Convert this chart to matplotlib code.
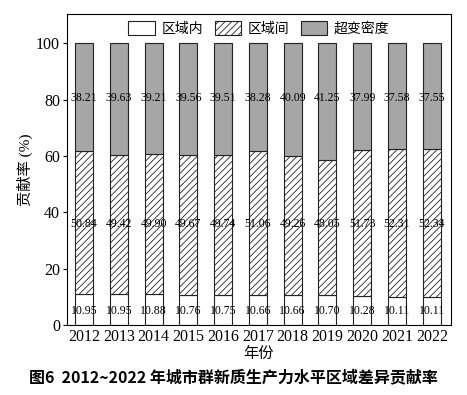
import numpy as np
import matplotlib
matplotlib.use('Agg')
import matplotlib.pyplot as plt

plt.rcParams['font.family'] = ['Liberation Serif', 'Noto Sans CJK SC']
plt.rcParams['hatch.color'] = '#555555'
plt.rcParams['hatch.linewidth'] = 0.6

years = ['2012', '2013', '2014', '2015', '2016', '2017', '2018', '2019', '2020', '2021', '2022']
intra = [10.95, 10.95, 10.88, 10.76, 10.75, 10.66, 10.66, 10.70, 10.28, 10.11, 10.11]
inter = [50.84, 49.42, 49.90, 49.67, 49.74, 51.06, 49.26, 48.05, 51.73, 52.31, 52.34]
trans = [38.21, 39.63, 39.21, 39.56, 39.51, 38.28, 40.09, 41.25, 37.99, 37.58, 37.55]

x = np.arange(len(years))
intra = np.array(intra)
inter = np.array(inter)
trans = np.array(trans)

fig = plt.figure(figsize=(4.67, 3.95), dpi=100)
ax = fig.add_axes([0.1435, 0.177, 0.822, 0.788])

w = 0.52
ax.bar(x, intra, w, color='white', edgecolor='#222222', linewidth=0.8, label='区域内')
ax.bar(x, inter, w, bottom=intra, color='white', edgecolor='#222222', hatch='/////',
       linewidth=0.8, label='区域间')
ax.bar(x, trans, w, bottom=intra + inter, color='#a6a6a6', edgecolor='#222222',
       linewidth=0.8, label='超变密度')

for i in range(len(years)):
    ax.text(x[i], 5, '%.2f' % intra[i], ha='center', va='center', fontsize=8.5)
    ax.text(x[i], 36, '%.2f' % inter[i], ha='center', va='center', fontsize=8.5)
    ax.text(x[i], 80.5, '%.2f' % trans[i], ha='center', va='center', fontsize=8.5)

ax.set_xlim(-0.49, 10.55)
ax.set_ylim(0, 110.5)
ax.set_yticks([0, 20, 40, 60, 80, 100])
ax.set_xticks(x)
ax.set_xticklabels(years)
ax.tick_params(axis='x', length=0, labelsize=11.5, pad=3)
ax.tick_params(axis='y', length=3, labelsize=11.5, pad=2)
ax.set_ylabel('贡献率 (%)', fontsize=11, labelpad=2)
ax.set_xlabel('年份', fontsize=11, labelpad=1)

ax.legend(loc='upper center', ncol=3, frameon=False, fontsize=10,
          handlelength=1.9, handleheight=1.1, handletextpad=0.5, columnspacing=0.8,
          borderaxespad=0.15)

fig.text(0.5, 0.045, '图6  2012~2022 年城市群新质生产力水平区域差异贡献率',
         ha='center', va='center', fontsize=11.5, fontweight='bold',
         family=['Noto Sans CJK SC'])

fig.savefig('out.png', dpi=100)
